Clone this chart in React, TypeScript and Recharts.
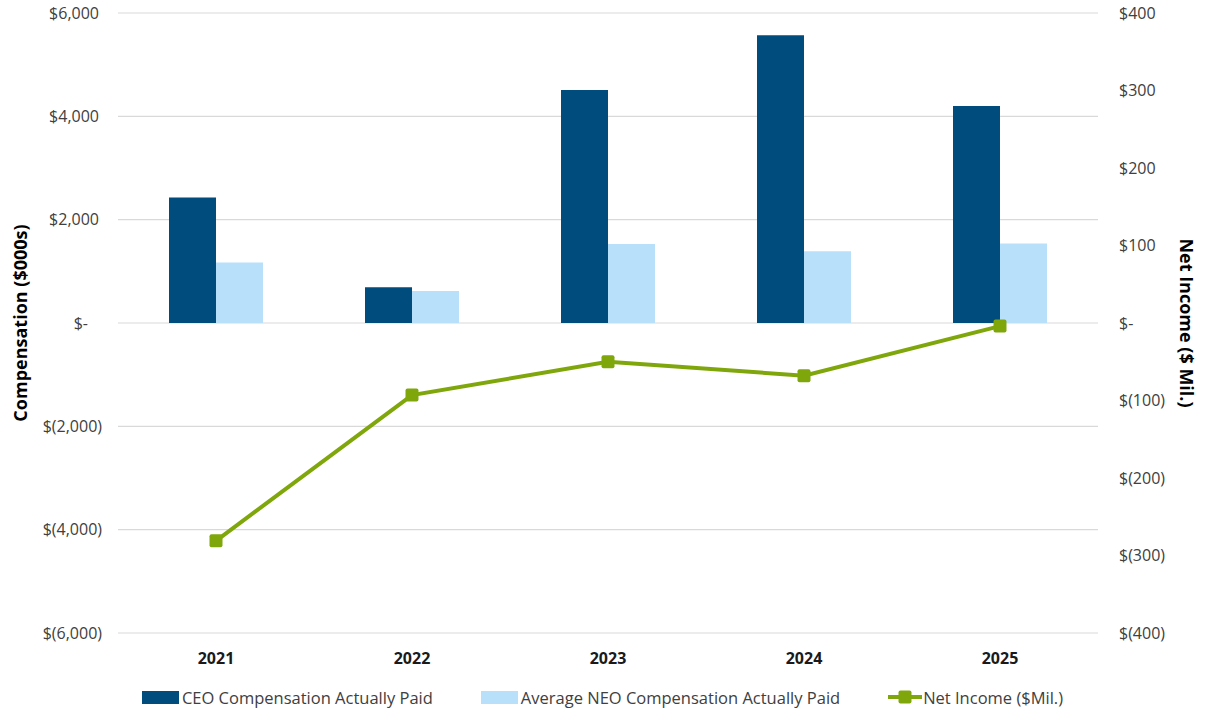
import { ComposedChart, Bar, Line, XAxis, YAxis, CartesianGrid, Legend } from 'recharts';

const years = ['2021', '2022', '2023', '2024', '2025'];
const ceoPaid = [2430, 690, 4510, 5570, 4200];
const neoPaid = [1170, 620, 1530, 1390, 1540];
const netIncome = [-281, -93, -50, -68, -4];

const compTicks = [-6000, -4000, -2000, 0, 2000, 4000, 6000];
const incomeTicks = [-400, -300, -200, -100, 0, 100, 200, 300, 400];

const CEO_COLOR = '#004c7d';
const NEO_COLOR = '#b8e0fa';
const NET_COLOR = '#7fa70c';

const data = years.map((year, i) => ({
  year,
  ceo: ceoPaid[i],
  neo: neoPaid[i],
  net: netIncome[i],
}));

const money = (v: number) => {
  if (v === 0) return '$-';
  const s = Math.abs(v).toLocaleString('en-US');
  return v < 0 ? `$(${s})` : `$${s}`;
};

function LeftTick({ x, y, payload }: any) {
  const v = payload.value;
  // accounting-style alignment: positives/zero leave room for ")"
  const shift = v === 0 ? -14 : v > 0 ? -3 : 0;
  return (
    <text x={x + shift} y={y} dy="0.35em" textAnchor="end" fill="#404040" fontSize={16}>
      {money(v)}
    </text>
  );
}

function LeftTitle({ viewBox }: any) {
  const x = viewBox.x + 20;
  const y = viewBox.y + viewBox.height / 2;
  return (
    <text x={x} y={y} transform={`rotate(-90, ${x}, ${y})`} textAnchor="middle"
      dominantBaseline="central" fontSize={18} fontWeight="bold" fill="#000">
      Compensation ($000s)
    </text>
  );
}

function RightTitle({ viewBox }: any) {
  const x = viewBox.x + 89;
  const y = viewBox.y + viewBox.height / 2;
  return (
    <text x={x} y={y} transform={`rotate(90, ${x}, ${y})`} textAnchor="middle"
      dominantBaseline="central" fontSize={18} fontWeight="bold" fill="#000">
      Net Income ($ Mil.)
    </text>
  );
}

function SquareDot({ cx, cy }: any) {
  if (cx == null || cy == null) return null;
  return <rect x={cx - 6.5} y={cy - 6.5} width={13} height={13} rx={2} fill={NET_COLOR} />;
}

function ChartLegend() {
  const item = { display: 'flex', alignItems: 'center', gap: 3 };
  return (
    <div style={{ display: 'flex', justifyContent: 'center', alignItems: 'center', gap: 48,
      height: 24, fontSize: 16.5, color: '#404040', whiteSpace: 'nowrap' }}>
      <div style={item}>
        <span style={{ width: 37, height: 13, background: CEO_COLOR, display: 'inline-block' }} />
        <span>CEO Compensation Actually Paid</span>
      </div>
      <div style={item}>
        <span style={{ width: 37, height: 13, background: NEO_COLOR, display: 'inline-block' }} />
        <span>Average NEO Compensation Actually Paid</span>
      </div>
      <div style={{ ...item, gap: 1 }}>
        <svg width={34} height={14}>
          <line x1={0} y1={7} x2={34} y2={7} stroke={NET_COLOR} strokeWidth={4} />
          <rect x={10.5} y={0.5} width={13} height={13} rx={2} fill={NET_COLOR} />
        </svg>
        <span>Net Income ($Mil.)</span>
      </div>
    </div>
  );
}

export default function App() {
  return (
    <div style={{ position: 'absolute', left: 0, top: 0, width: 1205, height: 715,
      background: '#fff', fontFamily: '"Open Sans", sans-serif' }}>
      <ComposedChart width={1205} height={715} data={data}
        margin={{ top: 13, right: 0, bottom: 6, left: 0 }}
        barGap={0} barCategoryGap="26%">
        <CartesianGrid yAxisId="left" vertical={false} stroke="#d9d9d9" strokeWidth={1.2} />
        <XAxis dataKey="year" axisLine={false} tickLine={false} tickSize={0} tickMargin={20} height={52}
          tick={{ fill: '#1a1a1a', fontSize: 16, fontWeight: 'bold' }} />
        <YAxis yAxisId="left" width={118} domain={[-6000, 6000]} ticks={compTicks}
          axisLine={false} tickLine={false} tickSize={0} tickMargin={16}
          tick={<LeftTick />} label={<LeftTitle />} />
        <YAxis yAxisId="right" orientation="right" width={107} domain={[-400, 400]} ticks={incomeTicks}
          axisLine={false} tickLine={false} tickSize={0} tickMargin={21} tickFormatter={money}
          tick={{ fill: '#404040', fontSize: 16 }} label={<RightTitle />} />
        <Legend verticalAlign="bottom" height={24} content={<ChartLegend />}
          wrapperStyle={{ left: 0, width: 1205 }} />
        <Bar yAxisId="left" dataKey="ceo" name="CEO Compensation Actually Paid" fill={CEO_COLOR}
          barSize={47} isAnimationActive={false} />
        <Bar yAxisId="left" dataKey="neo" name="Average NEO Compensation Actually Paid" fill={NEO_COLOR}
          barSize={47} isAnimationActive={false} />
        <Line yAxisId="right" dataKey="net" name="Net Income ($Mil.)" stroke={NET_COLOR} strokeWidth={4}
          dot={<SquareDot />} activeDot={false} isAnimationActive={false} />
      </ComposedChart>
    </div>
  );
}
